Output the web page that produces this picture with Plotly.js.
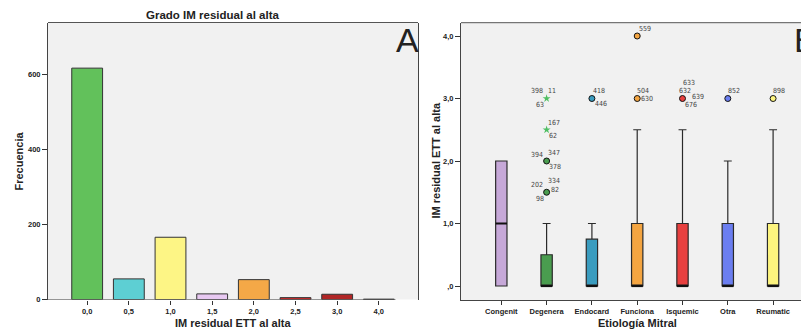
<!DOCTYPE html>
<html><head><meta charset="utf-8">
<script src="https://cdn.plot.ly/plotly-3.0.1.min.js"></script>
<style>html,body{margin:0;padding:0;background:#fff}#c{width:801px;height:333px}</style>
</head><body><div id="c"></div>
<script>
// ---- Panel A data ----
const gradeLabels = ['0,0','0,5','1,0','1,5','2,0','2,5','3,0','4,0'];
const gradeCounts = [617, 55, 166, 15, 53, 5, 14, 1];
const gradeColors = ['#62c15b','#5dcfd3','#fdf585','#e8c9f2','#f4a847','#cf2b2b','#b02626','#333333'];
const freqTicks = [0, 200, 400, 600];

// ---- Panel B data ----
const etiologies = ['Congenit','Degenera','Endocard','Funciona','Isquemic','Otra','Reumatic'];
const boxQ1 = [0, 0, 0, 0, 0, 0, 0];
const boxMedian = [1, 0, 0, 0, 0, 0, 0];
const boxQ3 = [2, 0.5, 0.75, 1, 1, 1, 1];
const boxLower = [0, 0, 0, 0, 0, 0, 0];
const boxUpper = [2, 1, 1, 2.5, 2.5, 2, 2.5];
const etiologyColors = ['#c6a8d8','#4a9d4f','#3a9cbf','#f4a541','#e8403f','#6b7ef0','#fdf47e'];
const imTicks = [0, 1, 2, 3, 4];
const imTickText = [',0','1,0','2,0','3,0','4,0'];

// outliers
const outlierEtiology = ['Degenera','Degenera','Degenera','Degenera','Endocard','Funciona','Funciona','Isquemic','Otra','Reumatic'];
const outlierValue    = [1.5, 2.0, 2.5, 3.0, 3.0, 4.0, 3.0, 3.0, 3.0, 3.0];
const outlierExtreme  = [false, false, true, true, false, false, false, false, false, false];
const outlierCases = [
  ['202','334','82','98'],
  ['394','347','378'],
  ['167','62'],
  ['398','11','63'],
  ['418','446'],
  ['559'],
  ['504','630'],
  ['633','632','639','676'],
  ['852'],
  ['898']
];
// label placement (pixel shifts from the point), style only
const caseShifts = [
  [[-10,7],[7,11],[8,2],[-7,-7]],
  [[-10,6],[7,8],[8,-6]],
  [[7,7],[6,-6]],
  [[-10,8],[5,8],[-7,-6]],
  [[7,8],[9,-5]],
  [[8,7]],
  [[6,8],[10,0]],
  [[6,16],[2,8],[15,2],[8,-6]],
  [[6,8]],
  [[6,8]]
];

const W = 801, H = 333;
const px = x => x / W;
const py = y => (H - y) / H;

const FAM = 'Liberation Sans, Arial, sans-serif';
const tickFont = {family: FAM, size: 7.5, color: '#222', weight: 'bold'};
const titleFont = {family: FAM, size: 11, color: '#222', weight: 'bold'};
const BOXW = 0.25;

const traces = [];
traces.push({
  type: 'bar', x: gradeLabels.map((_, i) => i), y: gradeCounts,
  width: 0.74,
  marker: {color: gradeColors, line: {color: '#333', width: 1}},
  xaxis: 'x', yaxis: 'y', hoverinfo: 'skip', showlegend: false
});

etiologies.forEach((e, i) => {
  traces.push({
    type: 'box', x: [i], q1: [boxQ1[i]], median: [boxMedian[i]], q3: [boxQ3[i]],
    lowerfence: [boxLower[i]], upperfence: [boxUpper[i]],
    width: BOXW, whiskerwidth: 0.7, boxpoints: false,
    fillcolor: etiologyColors[i], line: {color: '#2a2a2a', width: 1.2},
    xaxis: 'x2', yaxis: 'y2', hoverinfo: 'skip', showlegend: false
  });
});

// thick median lines
const medX = [], medY = [];
etiologies.forEach((e, i) => {
  medX.push(i - BOXW / 2, i + BOXW / 2, null);
  medY.push(boxMedian[i], boxMedian[i], null);
});
traces.push({type: 'scatter', mode: 'lines', x: medX, y: medY, line: {color: '#111', width: 2.2},
  xaxis: 'x2', yaxis: 'y2', hoverinfo: 'skip', showlegend: false});

const idx = e => etiologies.indexOf(e);
traces.push({
  type: 'scatter', mode: 'markers',
  x: outlierEtiology.map(idx), y: outlierValue,
  marker: {
    symbol: outlierExtreme.map(f => f ? 'star' : 'circle'),
    size: 6,
    color: outlierEtiology.map((e, k) => outlierExtreme[k] ? '#4fbf62' : etiologyColors[idx(e)]),
    line: {color: outlierExtreme.map(f => f ? 'rgba(0,0,0,0)' : '#111'), width: outlierExtreme.map(f => f ? 0 : 1)}
  },
  xaxis: 'x2', yaxis: 'y2', hoverinfo: 'skip', showlegend: false
});

const mid = {xanchor: 'center', yanchor: 'middle', showarrow: false, xref: 'paper', yref: 'paper'};
const annotations = [
  Object.assign({text: 'Grado IM residual al alta', x: px(213), y: py(15), font: {family: FAM, size: 11.5, color: '#222', weight: 'bold'}}, mid),
  Object.assign({text: 'Frecuencia', x: px(18.5), y: py(161), textangle: -90, font: titleFont}, mid),
  Object.assign({text: 'IM residual ETT al alta', x: px(233), y: py(323), font: titleFont}, mid),
  Object.assign({text: 'IM residual ETT al alta', x: px(435.5), y: py(161), textangle: -90, font: titleFont}, mid),
  Object.assign({text: 'Etiología Mitral', x: px(637.5), y: py(323), font: titleFont}, mid),
  Object.assign({text: 'A', x: px(407.5), y: py(40), font: {family: FAM, size: 34, color: '#222', weight: 'lighter'}}, mid),
  Object.assign({text: 'B', x: px(805), y: py(40), font: {family: FAM, size: 34, color: '#222', weight: 'lighter'}}, mid)
];
outlierCases.forEach((cases, k) => {
  cases.forEach((c, j) => {
    annotations.push({
      text: c, xref: 'x2', yref: 'y2', x: idx(outlierEtiology[k]), y: outlierValue[k],
      xanchor: 'center', yanchor: 'middle',
      xshift: caseShifts[k][j][0], yshift: caseShifts[k][j][1], showarrow: false,
      font: {family: 'DejaVu Sans Condensed, DejaVu Sans, sans-serif', size: 7, color: '#444'}
    });
  });
});

const shapes = [
  {type: 'line', xref: 'x domain', yref: 'y domain', x0: 0, x1: 1, y0: 1, y1: 1, line: {color: '#555', width: 1}},
  {type: 'line', xref: 'x', yref: 'y', x0: -0.94, x1: 7.4, y0: 0, y1: 0, line: {color: '#333', width: 1}},
  {type: 'line', xref: 'x2 domain', yref: 'y2 domain', x0: 0, x1: 1, y0: 1, y1: 1, line: {color: '#555', width: 1}}
];

const layout = {
  width: W, height: H, margin: {l: 0, r: 0, t: 0, b: 0},
  paper_bgcolor: '#ffffff', plot_bgcolor: '#f1f1f1',
  showlegend: false, boxmode: 'overlay',
  xaxis: {domain: [px(48), px(418)], range: [-0.94, 7.94], anchor: 'y',
    tickvals: gradeLabels.map((_, i) => i), ticktext: gradeLabels,
    ticks: 'outside', ticklen: 4, tickcolor: '#333', showline: false, showgrid: false, zeroline: false,
    tickfont: tickFont, fixedrange: true},
  yaxis: {domain: [py(299.5), py(22.5)], range: [0, 738.7], anchor: 'x',
    tickvals: freqTicks, ticktext: freqTicks.map(String),
    ticks: 'outside', ticklen: 5, tickcolor: '#333', showline: true, mirror: true, linecolor: '#444', linewidth: 1,
    showgrid: false, zeroline: false, tickfont: tickFont, fixedrange: true},
  xaxis2: {domain: [px(461), 1], range: [-0.89, 6.616], anchor: 'y2',
    tickvals: etiologies.map((_, i) => i), ticktext: etiologies,
    ticks: 'outside', ticklen: 4, tickcolor: '#333', showline: true, linecolor: '#444', linewidth: 1,
    showgrid: false, zeroline: false, tickfont: tickFont, fixedrange: true},
  yaxis2: {domain: [py(300), py(22.7)], range: [-0.224, 4.213], anchor: 'x2',
    tickvals: imTicks, ticktext: imTickText,
    ticks: 'outside', ticklen: 5, tickcolor: '#333', showline: true, linecolor: '#444', linewidth: 1,
    showgrid: false, zeroline: false, tickfont: tickFont, fixedrange: true},
  annotations: annotations,
  shapes: shapes
};

Plotly.newPlot('c', traces, layout, {displayModeBar: false, staticPlot: true});
</script>
</body></html>
